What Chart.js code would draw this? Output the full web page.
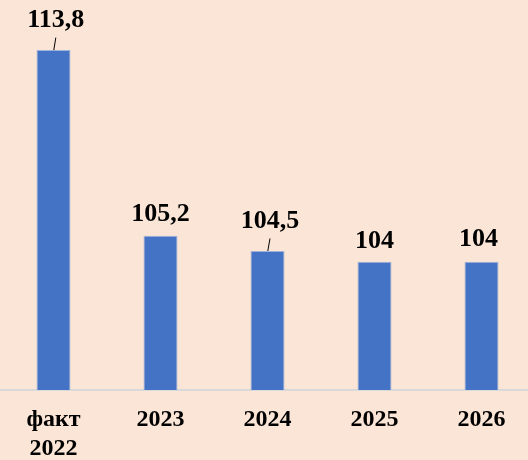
<!DOCTYPE html>
<html><head><meta charset="utf-8">
<script src="https://cdn.jsdelivr.net/npm/chart.js@4"></script>
<style>html,body{margin:0;padding:0;background:#fbe5d6;overflow:hidden;}#w{width:535px;height:460px;}</style>
</head><body><div id="w"><canvas id="c"></canvas></div>
<script>
const categories = [["факт","2022"], "2023", "2024", "2025", "2026"];
const values = [113.8, 105.2, 104.5, 104, 104];
const valueLabels = ["113,8", "105,2", "104,5", "104", "104"];

const labelPlugin = {
  id: 'vlabels',
  afterDatasetsDraw(chart) {
    const ctx = chart.ctx;
    const meta = chart.getDatasetMeta(0);
    const gap = [23.5, 15, 22.5, 14, 16];
    const dx = [2.3, 0, 2.5, 0, -3];
    const leader = [true, false, true, false, false];
    ctx.save();
    ctx.font = 'bold 26px "Liberation Serif", "Times New Roman", serif';
    ctx.fillStyle = '#000';
    ctx.textAlign = 'center';
    ctx.textBaseline = 'alphabetic';
    meta.data.forEach((bar, i) => {
      const x = bar.x + dx[i], y = bar.y - gap[i];
      ctx.fillText(valueLabels[i], x, y);
      if (leader[i]) {
        ctx.strokeStyle = '#000'; ctx.lineWidth = 1;
        ctx.beginPath();
        ctx.moveTo(bar.x + 0.3, bar.y);
        ctx.lineTo(bar.x + dx[i], bar.y - 12.5);
        ctx.stroke();
      }
    });
    ctx.restore();
  }
};

new Chart(document.getElementById('c'), {
  type: 'bar',
  data: { labels: categories, datasets: [{ data: values, backgroundColor: '#4472c4', borderColor: '#9fb3dc', borderWidth: 1, categoryPercentage: 1, barPercentage: 0.318 }] },
  options: {
    responsive: true, maintainAspectRatio: false, animation: false,
    layout: { padding: 0 },
    plugins: { legend: { display: false }, tooltip: { enabled: false } },
    scales: {
      x: {
        grid: { display: false, drawTicks: false },
        border: { display: true, color: '#d9d9d9', width: 2 },
        ticks: { color: '#000', padding: 16, maxRotation: 0, autoSkip: false, font: { family: '"Liberation Serif", "Times New Roman", serif', size: 24, weight: 'bold', lineHeight: 1.19 } },
        afterFit(s) { s.height = 70; }
      },
      y: { display: false, min: 98.06, max: 116.12 }
    }
  },
  plugins: [labelPlugin]
});
</script></body></html>
